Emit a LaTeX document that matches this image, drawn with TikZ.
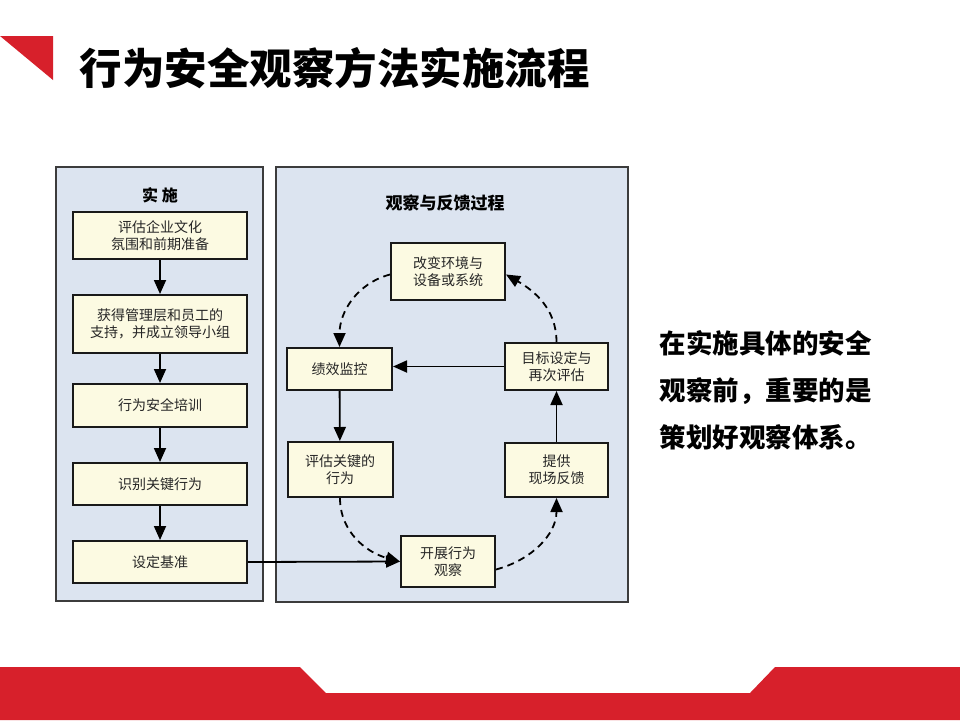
\documentclass[tikz,border=0pt]{standalone}
\usepackage{fontspec}
\newfontfamily\cjk{Noto Sans CJK SC}
\usetikzlibrary{arrows.meta}
\definecolor{slidered}{RGB}{215,32,43}
\definecolor{panelblue}{RGB}{220,228,240}
\definecolor{boxcream}{RGB}{252,250,226}
\definecolor{framegray}{RGB}{60,60,60}
\begin{document}
\begin{tikzpicture}[x=1pt, y=-1pt,
    panel/.style={draw=framegray, line width=2pt, fill=panelblue},
    stepbox/.style={draw=black!90, line width=2pt, fill=boxcream, inner sep=0pt,
        align=center, text=black!85, font=\cjk\fontsize{14}{17}\selectfont},
    flow/.style={line width=1.8pt, -{Triangle[length=14pt, width=12pt]}},
    dashflow/.style={flow, dash pattern=on 7pt off 5pt}]
    % 页面与装饰
    \useasboundingbox[fill=white] (0,0) rectangle (960,720);
    \fill[slidered] (0,36) -- (53,36) -- (53,80) -- cycle;
    \fill[slidered] (0,667) -- (300,667) -- (326,693) -- (750,693) -- (775,667)
        -- (960,667) -- (960,720) -- (0,720) -- cycle;
    \node[anchor=west, font=\cjk\bfseries\fontsize{42.5}{50}\selectfont] (title) at (76,68)
        {行为安全观察方法实施流程};

    % 两个面板
    \draw[panel] (56,167) rectangle (263,601);
    \draw[panel] (276,167) rectangle (628,602);
    \node[font=\cjk\bfseries\fontsize{16}{18}\selectfont] (hleft) at (160,195) {实\ 施};
    \node[font=\cjk\bfseries\fontsize{17}{19}\selectfont] (hright) at (445,203) {观察与反馈过程};

    % 实施步骤
    \node[stepbox, minimum width=174pt, minimum height=47pt] (s1) at (160,235.5)
        {评估企业文化\\氛围和前期准备};
    \node[stepbox, minimum width=174pt, minimum height=58pt] (s2) at (160,324)
        {获得管理层和员工的\\支持，并成立领导小组};
    \node[stepbox, minimum width=174pt, minimum height=43pt] (s3) at (160,405.5) {行为安全培训};
    \node[stepbox, minimum width=174pt, minimum height=42pt] (s4) at (160,484) {识别关键行为};
    \node[stepbox, minimum width=174pt, minimum height=42pt] (s5) at (160,562) {设定基准};

    % 观察与反馈循环
    \node[stepbox, minimum width=114pt, minimum height=57pt] (env) at (448,271.5)
        {改变环境与\\设备或系统};
    \node[stepbox, minimum width=105pt, minimum height=42pt] (perf) at (339.5,369) {绩效监控};
    \node[stepbox, minimum width=103pt, minimum height=47pt] (goal) at (556.5,366.5)
        {目标设定与\\再次评估};
    \node[stepbox, minimum width=105pt, minimum height=55pt] (eval) at (340,469.5)
        {评估关键的\\行为};
    \node[stepbox, minimum width=103pt, minimum height=54pt] (feed) at (556.5,470)
        {提供\\现场反馈};
    \node[stepbox, minimum width=94pt, minimum height=51pt] (obs) at (448,561.5)
        {开展行为\\观察};

    % 连线
    \draw[flow] (s1) -- (s2);
    \draw[flow] (s2) -- (s3);
    \draw[flow] (s3) -- (s4);
    \draw[flow] (s4) -- (s5);
    \draw[flow] (s5.east) -- (obs.west);
    \draw[flow] (perf) -- (eval);
    \draw[flow] (feed) -- (goal);
    \draw[flow] (goal.west) -- (goal.west -| perf.east);
    \draw[dashflow] ([yshift=-3pt]env.west) to[out=195, in=90] (perf.north);
    \draw[dashflow] (goal.north) to[out=90, in=-30] ([yshift=-3pt]env.east);
    \draw[dashflow] (eval.south) to[out=-90, in=165] (obs.west);
    \draw[dashflow] ([yshift=-8pt]obs.east) to[out=15, in=-90] (feed.south);

    % 右侧说明
    \node[anchor=north west, align=left, font=\cjk\bfseries\fontsize{26.5}{47}\selectfont]
        (note) at (656,327) {在实施具体的安全\\观察前，重要的是\\策划好观察体系。};
\end{tikzpicture}
\end{document}
